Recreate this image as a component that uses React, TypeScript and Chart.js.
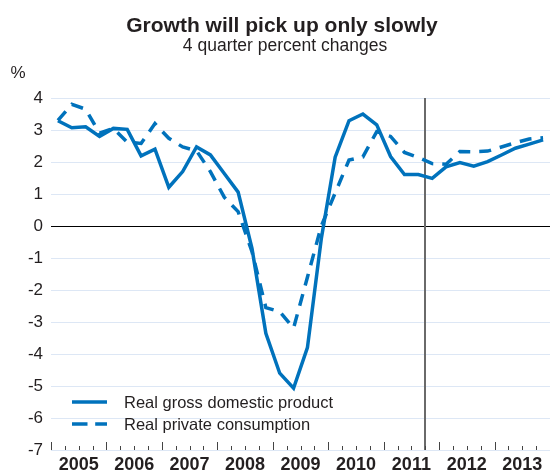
import React, { useEffect, useRef } from 'react';
import { Chart, registerables } from 'chart.js';

Chart.register(...registerables);

const years = ['2005', '2006', '2007', '2008', '2009', '2010', '2011', '2012', '2013'];
const quarterNames = ['Q1', 'Q2', 'Q3', 'Q4'];
const quarters = years.flatMap((y) => quarterNames.map((q) => `${y}${q}`));

const realGdp = [
  3.29, 3.07, 3.1, 2.8, 3.05, 3.02, 2.19, 2.4, 1.21, 1.7, 2.47, 2.22,
  1.64, 1.06, -0.7, -3.35, -4.6, -5.07, -3.8, -0.4, 2.15, 3.29, 3.5, 3.16,
  2.17, 1.61, 1.61, 1.49, 1.85, 1.98, 1.87, 2.01, 2.22, 2.43, 2.56, 2.69,
];
const realConsumption = [
  3.3, 3.8, 3.65, 2.9, 3.05, 2.62, 2.58, 3.2, 2.74, 2.47, 2.35, 1.7,
  0.9, 0.45, -0.8, -2.55, -2.68, -3.19, -1.6, 0.0, 1.03, 2.06, 2.16, 2.95,
  2.8, 2.3, 2.14, 1.95, 1.93, 2.33, 2.32, 2.34, 2.47, 2.6, 2.72, 2.76,
];
const seriesNames = ['Real gross domestic product', 'Real private consumption'];
const yMin = -7;
const yMax = 4;
const forecastStart = '2011Q4';
const titleText = 'Growth will pick up only slowly';
const subtitleText = '4 quarter percent changes';
const unitText = '%';

const FONT = '"Liberation Sans", Arial, Helvetica, sans-serif';
const BLUE = '#0072bc';
const TEXT = '#231f20';

const decor = {
  id: 'decor',
  beforeDatasetsDraw(chart: any) {
    const { ctx, chartArea, scales } = chart;
    const x = scales.x;
    const px = Math.round(x.getPixelForValue(quarters.indexOf(forecastStart) - 0.5));
    ctx.save();
    ctx.strokeStyle = '#6a6a6a';
    ctx.lineWidth = 2;
    ctx.beginPath();
    ctx.moveTo(px, chartArea.top);
    ctx.lineTo(px, chartArea.bottom);
    ctx.stroke();
    ctx.restore();
  },
  afterDraw(chart: any) {
    const { ctx, chartArea, scales } = chart;
    const x = scales.x;
    ctx.save();
    ctx.fillStyle = TEXT;
    ctx.textAlign = 'center';
    ctx.textBaseline = 'alphabetic';
    ctx.font = `bold 21px ${FONT}`;
    ctx.fillText(titleText, 282, 32);
    ctx.font = `17.5px ${FONT}`;
    ctx.fillText(subtitleText, 285, 51);
    ctx.font = `17px ${FONT}`;
    ctx.fillText(unitText, 18, 78);

    // quarter ticks (inside)
    ctx.strokeStyle = '#444';
    ctx.lineWidth = 1;
    const bottom = chartArea.bottom;
    for (let k = 0; k <= quarters.length; k++) {
      const px = Math.round(x.getPixelForValue(k - 0.5)) + 0.5;
      const len = k % 4 === 0 ? 8 : 4;
      ctx.beginPath();
      ctx.moveTo(px, bottom);
      ctx.lineTo(px, bottom - len);
      ctx.stroke();
    }
    // year labels
    ctx.font = `bold 18px ${FONT}`;
    years.forEach((y, i) => {
      const px = x.getPixelForValue(i * 4 + 1.5);
      ctx.fillText(y, px, 469.5);
    });

    // legend
    const datasets = chart.data.datasets;
    const rows = [402, 424];
    ctx.textAlign = 'left';
    ctx.textBaseline = 'middle';
    ctx.font = `16.5px ${FONT}`;
    datasets.forEach((ds: any, i: number) => {
      ctx.strokeStyle = ds.borderColor;
      ctx.lineWidth = 3.5;
      ctx.setLineDash(ds.borderDash && ds.borderDash.length ? [15.5, 7.7] : []);
      ctx.beginPath();
      ctx.moveTo(72, rows[i]);
      ctx.lineTo(107, rows[i]);
      ctx.stroke();
      ctx.setLineDash([]);
      ctx.fillStyle = TEXT;
      ctx.fillText(ds.label, 124, rows[i] + 1);
    });
    ctx.restore();
  },
};

export default function App() {
  const ref = useRef<HTMLCanvasElement | null>(null);

  useEffect(() => {
    if (!ref.current) return;
    const chart = new Chart(ref.current, {
      type: 'line',
      data: {
        labels: quarters,
        datasets: [
          {
            label: seriesNames[0],
            data: realGdp,
            borderColor: BLUE,
            borderWidth: 3.5,
            pointRadius: 0,
            tension: 0,
            fill: false,
          },
          {
            label: seriesNames[1],
            data: realConsumption,
            borderColor: BLUE,
            borderWidth: 3.5,
            borderDash: [12, 9],
            pointRadius: 0,
            tension: 0,
            fill: false,
          },
        ],
      },
      options: {
        responsive: false,
        animation: false,
        devicePixelRatio: 1,
        layout: { padding: { top: 98, right: 0, bottom: 0, left: 0 } },
        plugins: {
          legend: { display: false },
          title: { display: false },
          tooltip: { enabled: false },
        },
        scales: {
          x: {
            type: 'category',
            offset: true,
            grid: { display: false },
            border: { display: false },
            ticks: { display: false },
            afterFit: (s: any) => {
              s.height = 20;
            },
          },
          y: {
            min: yMin,
            max: yMax,
            border: { display: false },
            grid: {
              drawTicks: false,
              lineWidth: 1,
              color: (c: any) => (c.tick && c.tick.value === 0 ? '#000000' : '#dde7f5'),
            },
            ticks: {
              stepSize: 1,
              padding: 8,
              color: TEXT,
              font: { family: FONT, size: 17 },
              callback: (v: any) => String(v),
            },
            afterFit: (s: any) => {
              s.width = 51;
            },
          },
        },
      },
      plugins: [decor],
    } as any);
    return () => chart.destroy();
  }, []);

  return (
    <canvas
      ref={ref}
      width={550}
      height={470}
      style={{ position: 'absolute', left: 0, top: 0, width: 550, height: 470 }}
    />
  );
}
